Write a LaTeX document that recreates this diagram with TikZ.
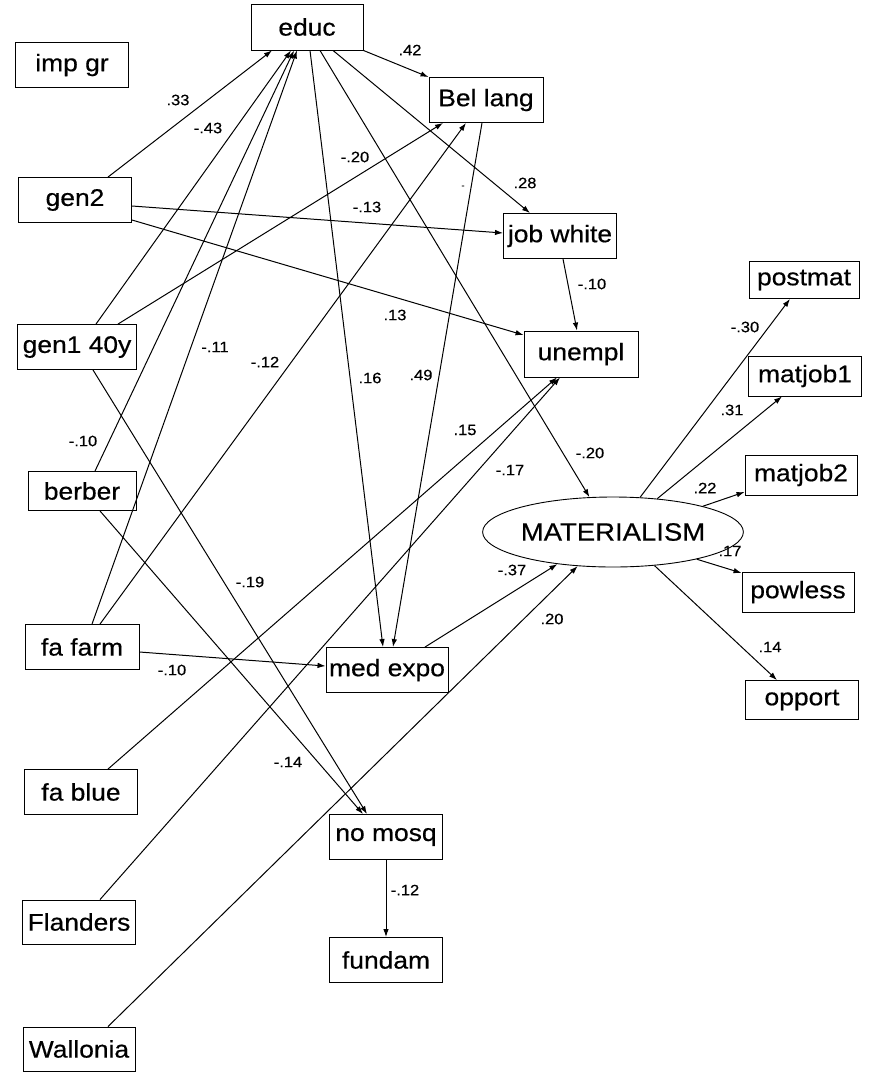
\documentclass[tikz,border=0pt]{standalone}
\usepackage{fontspec}
\setmainfont{Liberation Sans}[FakeStretch=1.1,FakeBold=0.5]
\usetikzlibrary{arrows.meta,shapes.geometric}
\begin{document}
\begin{tikzpicture}[x=1pt,y=-1pt,
  box/.style={draw,line width=0.9pt,inner sep=0pt,font=\fontsize{24}{28}\selectfont},
  lat/.style={draw,ellipse,line width=0.9pt,inner sep=0pt,minimum width=201pt,minimum height=70pt,font=\fontsize{25}{28}\selectfont},
  lbl/.style={inner sep=0pt,font=\fontsize{15}{17}\selectfont},
  arr/.style={line width=1pt,-{Latex[length=8pt,width=5.5pt]}}]
\useasboundingbox[fill=white] (0,0) rectangle (869,1080);
% nodes
\node[box,minimum width=112pt,minimum height=46pt] (educ) at (307,27) {educ};
\node[box,minimum width=113pt,minimum height=45pt] (impgr) at (72,65) {imp gr};
\node[box,minimum width=113pt,minimum height=45pt] (gen2) at (75,200) {gen2};
\node[box,minimum width=114pt,minimum height=45pt] (bel) at (486,100) {Bel lang};
\node[box,minimum width=113pt,minimum height=45pt] (job) at (560,236) {job white};
\node[box,minimum width=110pt,minimum height=37pt] (postmat) at (804,280) {postmat};
\node[box,minimum width=119pt,minimum height=45pt] (gen1) at (77,347) {gen1 40y};
\node[box,minimum width=108pt,minimum height=39pt] (berber) at (82,491) {berber};
\node[box,minimum width=114pt,minimum height=46pt] (unempl) at (581,354) {unempl};
\node[box,minimum width=113pt,minimum height=40pt] (matjob1) at (805,376) {matjob1};
\node[lat] (mat) at (613,532) {MATERIALISM};
\node[box,minimum width=112pt,minimum height=40pt] (matjob2) at (801,475) {matjob2};
\node[box,minimum width=112pt,minimum height=40pt] (powless) at (798,592) {powless};
\node[box,minimum width=113pt,minimum height=39pt] (opport) at (802,700) {opport};
\node[box,minimum width=114pt,minimum height=45pt] (fafarm) at (82,647) {fa farm};
\node[box,minimum width=122pt,minimum height=45pt] (medexpo) at (387,670) {med expo};
\node[box,minimum width=113pt,minimum height=45pt] (fablue) at (81,792) {fa blue};
\node[box,minimum width=113pt,minimum height=45pt] (nomosq) at (386,837) {no mosq};
\node[box,minimum width=113pt,minimum height=44pt] (flanders) at (79,922) {Flanders};
\node[box,minimum width=113pt,minimum height=45pt] (fundam) at (386,960) {fundam};
\node[box,minimum width=112pt,minimum height=44pt] (wallonia) at (79,1049) {Wallonia};
% connectors
\draw[arr] ([xshift=33pt]gen2.north) -- ([xshift=-35pt]educ.south);
\draw[arr] ([xshift=19pt]gen1.north) -- ([xshift=-16pt]educ.south);
\draw[arr] ([xshift=13pt]berber.north) -- ([xshift=-13pt]educ.south);
\draw[arr] ([xshift=10pt]fafarm.north) -- ([xshift=-10pt]educ.south);
\draw[arr] ([xshift=41pt]gen1.north) -- ([xshift=-43pt]bel.south);
\draw[arr] ([xshift=18pt]fafarm.north) -- ([xshift=-20pt]bel.south);
\draw[arr] (educ.south east) -- (bel.north west);
\draw[arr] ([xshift=26pt]educ.south) -- ([xshift=-30pt]job.north);
\draw[arr] ([xshift=3pt]educ.south) -- ([xshift=-4pt]medexpo.north);
\draw[arr] ([xshift=13pt]educ.south) -- (mat.124);
\draw[arr] ([xshift=-4pt]bel.south) -- ([xshift=6pt]medexpo.north);
\draw[arr] ([yshift=-6pt]gen2.east) -- ([yshift=3pt]job.west);
\draw[arr] ([yshift=-20pt]gen2.east) -- ([yshift=19pt]unempl.west);
\draw[arr] ([xshift=3pt]job.south) -- ([xshift=-4pt]unempl.north);
\draw[arr] ([xshift=27pt]fablue.north) -- ([xshift=-24pt]unempl.south);
\draw[arr] ([xshift=21pt]flanders.north) -- ([xshift=-21pt]unempl.south);
\draw[arr] ([xshift=16pt]gen1.south) -- ([xshift=-19pt]nomosq.north);
\draw[arr] ([xshift=18pt]berber.south) -- ([xshift=-23pt]nomosq.north);
\draw[arr] ([yshift=-5pt]fafarm.east) -- ([yshift=4pt]medexpo.west);
\draw[arr] ([xshift=38pt]medexpo.north) -- (mat.210);
\draw[arr] ([xshift=29pt]wallonia.north) -- (mat.224);
\draw[arr] (mat.52) -- ([xshift=-14pt]postmat.south);
\draw[arr] (mat.37) -- ([xshift=-23pt]matjob1.south);
\draw[arr] (mat.16) -- ([yshift=-17pt]matjob2.west);
\draw[arr] (mat.342) -- ([yshift=19pt]powless.west);
\draw[arr] (mat.321) -- ([xshift=-25pt]opport.north);
\draw[arr] (nomosq.south) -- (fundam.north);
% labels
\node[lbl] (l1) at (178,100) {.33};
\node[lbl] (l2) at (208,128) {-.43};
\node[lbl] (l3) at (410,50) {.42};
\node[lbl] (l4) at (355,157) {-.20};
\node[lbl] (l5) at (367,207) {-.13};
\node[lbl] (l6) at (525,183) {.28};
\node[lbl] (l7) at (592,284) {-.10};
\node[lbl] (l8) at (395,315) {.13};
\node[lbl] (l9) at (215,347) {-.11};
\node[lbl] (l10) at (265,362) {-.12};
\node[lbl] (l11) at (370,378) {.16};
\node[lbl] (l12) at (421,375) {.49};
\node[lbl] (l13) at (83,441) {-.10};
\node[lbl] (l14) at (465,430) {.15};
\node[lbl] (l15) at (510,470) {-.17};
\node[lbl] (l16) at (590,453) {-.20};
\node[lbl] (l17) at (745,327) {-.30};
\node[lbl] (l18) at (732,410) {.31};
\node[lbl] (l19) at (705,488) {.22};
\node[lbl] (l20) at (730,551) {.17};
\node[lbl] (l21) at (512,570) {-.37};
\node[lbl] (l22) at (552,619) {.20};
\node[lbl] (l23) at (770,647) {.14};
\node[lbl] (l24) at (250,582) {-.19};
\node[lbl] (l25) at (172,670) {-.10};
\node[lbl] (l26) at (288,762) {-.14};
\node[lbl] (l27) at (405,890) {-.12};
\node[lbl,font=\fontsize{9}{10}\selectfont] (l28) at (463,187) {-};
\end{tikzpicture}
\end{document}
